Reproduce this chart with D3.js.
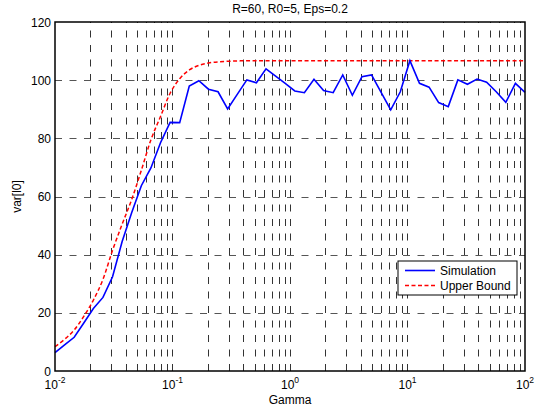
<!DOCTYPE html>
<html>
<head>
<meta charset="utf-8">
<script src="https://cdn.jsdelivr.net/npm/d3@7"></script>
<style>
  body { margin: 0; background: #fff; }
  text { font-family: "Liberation Sans", Arial, sans-serif; fill: #000; }
</style>
</head>
<body>
<div id="vis"></div>
<script>
// gamma = logspace(-2, 2, 50)
const gamma = [0.01, 0.012068, 0.014563, 0.017575, 0.021210, 0.025595, 0.030888, 0.037276, 0.044984, 0.054287,
  0.065513, 0.079060, 0.095410, 0.11514, 0.13895, 0.16768, 0.20236, 0.24421, 0.29471, 0.35565,
  0.42919, 0.51795, 0.62506, 0.75431, 0.91030, 1.0985, 1.3257, 1.5999, 1.9307, 2.3300,
  2.8118, 3.3932, 4.0949, 4.9417, 5.9636, 7.1969, 8.6851, 10.481, 12.649, 15.264,
  18.421, 22.230, 26.827, 32.375, 39.069, 47.149, 56.899, 68.665, 82.864, 100];

const simulation = [6.3, 9.0, 11.6, 16.5, 21.5, 25.3, 32.4, 44.5, 54.5, 63.7,
  69.8, 78.5, 85.5, 85.4, 98.0, 99.8, 96.9, 96.0, 90.1, 95.1,
  100.1, 99.1, 103.9, 101.4, 98.9, 96.3, 95.7, 100.3, 96.4, 95.7,
  101.8, 94.8, 101.2, 101.8, 95.8, 89.8, 96.0, 106.7, 98.9, 97.6,
  92.3, 90.9, 100.1, 98.6, 100.4, 99.3, 96.0, 92.4, 98.9, 95.8];

const upperBound = [8.4, 10.9, 14.1, 18.8, 24.4, 31.5, 41.5, 50.5, 59.0, 69.0,
  79.5, 87.5, 95.5, 100.5, 103.5, 105.1, 105.9, 106.3, 106.5, 106.6,
  106.7, 106.7, 106.7, 106.7, 106.7, 106.7, 106.7, 106.7, 106.7, 106.7,
  106.7, 106.7, 106.7, 106.7, 106.7, 106.7, 106.7, 106.7, 106.7, 106.7,
  106.7, 106.7, 106.7, 106.7, 106.7, 106.7, 106.7, 106.7, 106.7, 106.7];

const yTicks = [0, 20, 40, 60, 80, 100, 120];
const xDecades = [-2, -1, 0, 1, 2];
const seriesNames = ["Simulation", "Upper Bound"];

var width = 543, height = 410;
var pLeft = 55, pRight = 525, pTop = 22, pBottom = 371;

var x = d3.scaleLog().domain([0.01, 100]).range([pLeft, pRight]);
var y = d3.scaleLinear().domain([0, 120]).range([pBottom, pTop]);

var svg = d3.select("#vis").append("svg")
  .attr("width", width)
  .attr("height", height);

// minor + major vertical grid (log)
var gridX = [];
xDecades.slice(0, -1).forEach(function(e) {
  for (var k = 1; k <= 9; k++) gridX.push(k * Math.pow(10, e));
});
gridX = gridX.filter(function(v) { return v > 0.0101; });

svg.append("g").selectAll("line")
  .data(gridX)
  .enter().append("line")
  .attr("x1", function(d) { return Math.round(x(d)) + 0.5; })
  .attr("x2", function(d) { return Math.round(x(d)) + 0.5; })
  .attr("y1", pBottom)
  .attr("y2", pTop)
  .style("stroke", "#333")
  .style("stroke-width", 1)
  .style("stroke-dasharray", "7,7.5");

svg.append("g").selectAll("line")
  .data(yTicks.slice(1, -1))
  .enter().append("line")
  .attr("x1", pLeft)
  .attr("x2", pRight)
  .attr("y1", function(d) { return Math.round(y(d)) + 0.5; })
  .attr("y2", function(d) { return Math.round(y(d)) + 0.5; })
  .style("stroke", "#555")
  .style("stroke-width", 1)
  .style("stroke-dasharray", "7,7.5");

// data lines
var simLine = d3.line()
  .x(function(d, i) { return x(gamma[i]); })
  .y(function(d) { return y(d); });

var ubLine = d3.line()
  .x(function(d, i) { return x(gamma[i]); })
  .y(function(d) { return y(d); })
  .curve(d3.curveMonotoneX);

svg.append("path")
  .datum(upperBound)
  .attr("d", ubLine)
  .style("fill", "none")
  .style("stroke", "#ff0000")
  .style("stroke-width", 1.5)
  .style("stroke-dasharray", "4,2.5");

svg.append("path")
  .datum(simulation)
  .attr("d", simLine)
  .style("fill", "none")
  .style("stroke", "#0000ff")
  .style("stroke-width", 1.6);

// box
svg.append("rect")
  .attr("x", pLeft)
  .attr("y", pTop)
  .attr("width", pRight - pLeft)
  .attr("height", pBottom - pTop)
  .style("fill", "none")
  .style("stroke", "#000")
  .style("stroke-width", 1.5);

// y tick labels
svg.append("g").selectAll("text")
  .data(yTicks)
  .enter().append("text")
  .attr("x", pLeft - 4)
  .attr("y", function(d) { return y(d) + 4.5; })
  .attr("text-anchor", "end")
  .style("font-size", "12px")
  .text(function(d) { return d; });

// x tick labels 10^n
var xt = svg.append("g").selectAll("text")
  .data(xDecades)
  .enter().append("text")
  .attr("x", function(d) { return x(Math.pow(10, d)); })
  .attr("y", pBottom + 18)
  .attr("text-anchor", "middle")
  .style("font-size", "12px");
xt.append("tspan").text("10");
xt.append("tspan")
  .attr("dy", -6)
  .style("font-size", "8.5px")
  .text(function(d) { return d; });

// title + axis labels
svg.append("text")
  .attr("x", (pLeft + pRight) / 2)
  .attr("y", 13)
  .attr("text-anchor", "middle")
  .style("font-size", "12px")
  .text("R=60, R0=5, Eps=0.2");

svg.append("text")
  .attr("x", (pLeft + pRight) / 2)
  .attr("y", 404)
  .attr("text-anchor", "middle")
  .style("font-size", "12px")
  .text("Gamma");

svg.append("text")
  .attr("transform", "translate(21," + ((pTop + pBottom) / 2) + ") rotate(-90)")
  .attr("text-anchor", "middle")
  .style("font-size", "12px")
  .text("var[l0]");

// legend
var lg = svg.append("g").attr("transform", "translate(398,261)");
lg.append("rect")
  .attr("width", 119)
  .attr("height", 34)
  .style("fill", "#fff")
  .style("stroke", "#000")
  .style("stroke-width", 1);

var legendStyles = [
  { color: "#0000ff", dash: null, width: 1.6 },
  { color: "#ff0000", dash: "4,2.5", width: 1.5 }
];

seriesNames.forEach(function(name, i) {
  var yy = 9.5 + i * 15;
  lg.append("line")
    .attr("x1", 7).attr("x2", 37)
    .attr("y1", yy).attr("y2", yy)
    .style("stroke", legendStyles[i].color)
    .style("stroke-width", legendStyles[i].width)
    .style("stroke-dasharray", legendStyles[i].dash);
  lg.append("text")
    .attr("x", 42)
    .attr("y", yy + 4.5)
    .style("font-size", "12px")
    .text(name);
});
</script>
</body>
</html>
